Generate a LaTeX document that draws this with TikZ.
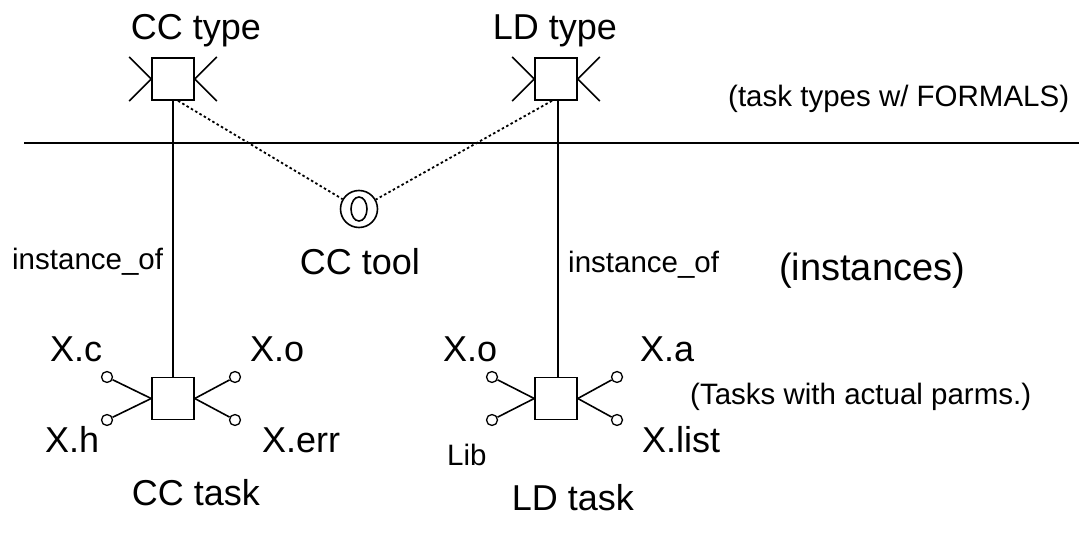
\documentclass[tikz,border=0pt]{standalone}
\usepackage{fontspec}
\setmainfont{Liberation Sans}
\usetikzlibrary{calc,positioning}
\tikzset{
  taskbox/.style={rectangle, draw=black, line width=1.6pt, minimum size=42pt, inner sep=0pt},
  port/.style={circle, draw=black, line width=1.3pt, minimum size=11pt, inner sep=0pt},
  wire/.style={draw, line width=1.6pt},
  link/.style={draw, line width=1.8pt, dash pattern=on 2.5pt off 2.5pt},
  big/.style={font=\fontsize{36}{40}\selectfont, inner sep=0pt, anchor=base},
  small/.style={font=\fontsize{29.5}{34}\selectfont, inner sep=0pt, anchor=base}
}

\begin{document}
\begin{tikzpicture}[x=1pt,y=-1pt]
  \useasboundingbox (0,0) rectangle (1079,534);

  % Task types above the line.
  \node[taskbox] (cctype) at (173,79) {};
  \node[taskbox] (ldtype) at (556,79) {};
  \node[big] (cctypelbl) at (196,40) {CC type};
  \node[big] (ldtypelbl) at (555,40) {LD type};
  \foreach \t in {cctype,ldtype} {
    \draw[wire] (\t.west) -- ++(-22,-22);
    \draw[wire] (\t.west) -- ++(-22,22);
    \draw[wire] (\t.east) -- ++(22,-22);
    \draw[wire] (\t.east) -- ++(22,22);
  }
  \node[small,anchor=base west] (formals) at (728,107) {(task types w/ FORMALS)};

  % Separator between types and instances.
  \coordinate (sepl) at (24,143);
  \coordinate (sepr) at (1079,143);
  \draw[line width=2pt] (sepl) -- (sepr);

  % The tool, hooked to both types.
  \node[circle, draw=black, line width=1.6pt, minimum size=37pt, inner sep=0pt] (tool) at (359,209) {};
  \draw[line width=1.6pt] (tool) ellipse (8 and 12);
  \node[big] (toollbl) at (360,275) {CC tool};
  \draw[link] ([xshift=5pt]cctype.south) -- (tool);
  \draw[link] ([xshift=-4pt]ldtype.south) -- (tool);

  % Tasks with their actual parameters.
  \node[taskbox] (cctask) at (173,398.5) {};
  \node[taskbox] (ldtask) at (556,398.5) {};
  \draw[wire] (cctype.south) -- (cctask.north);
  \draw[wire] ([xshift=2pt]ldtype.south) -- ([xshift=2pt]ldtask.north);

  \node[port] (ccc)   at (107,377) {};
  \node[port] (cch)   at (107,420) {};
  \node[port] (cco)   at (235,377) {};
  \node[port] (ccerr) at (235,420) {};
  \node[port] (ldo)    at (492,377) {};
  \node[port] (ldlib)  at (492,420) {};
  \node[port] (lda)    at (617,377) {};
  \node[port] (ldlist) at (617,420) {};
  \foreach \p in {ccc,cch} \draw[wire] (cctask.west) -- (\p);
  \foreach \p in {cco,ccerr} \draw[wire] (cctask.east) -- (\p);
  \foreach \p in {ldo,ldlib} \draw[wire] (ldtask.west) -- (\p);
  \foreach \p in {lda,ldlist} \draw[wire] (ldtask.east) -- (\p);

  % Labels.
  \node[small,anchor=base west] (instl) at (12,270) {instance\_of};
  \node[small,anchor=base west] (instr) at (568,273) {instance\_of};
  \node[big,anchor=base west,font=\fontsize{38}{42}\selectfont] (instances) at (779,281) {(instances)};
  \node[big,anchor=base west] (lxc)   at (50,362)  {X.c};
  \node[big,anchor=base west] (lxo)   at (250,362) {X.o};
  \node[big,anchor=base west] (lxh)   at (45,452)  {X.h};
  \node[big,anchor=base west] (lxerr) at (262,452) {X.err};
  \node[big,anchor=base west] (rxo)   at (443,362) {X.o};
  \node[big,anchor=base west] (rxa)   at (640,362) {X.a};
  \node[small,anchor=base west] (rlib) at (447,465) {Lib};
  \node[big,anchor=base west] (rxlist) at (642,452) {X.list};
  \node[small,anchor=base west] (actual) at (690,405) {(Tasks with actual parms.)};
  \node[big] (cctasklbl) at (196,505) {CC task};
  \node[big] (ldtasklbl) at (573,510) {LD task};
\end{tikzpicture}
\end{document}
